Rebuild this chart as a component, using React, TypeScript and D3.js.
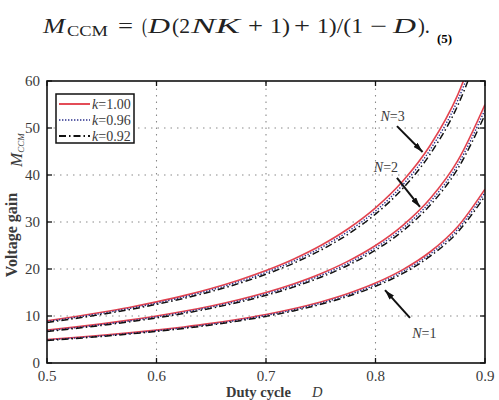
import React from 'react'
import * as d3 from 'd3'

// duty cycle samples
const duty = [0.5, 0.525, 0.55, 0.575, 0.6, 0.625, 0.65, 0.675, 0.7, 0.725, 0.75, 0.775, 0.8, 0.825, 0.85, 0.875, 0.9]

// voltage gain, N = 1, 2, 3 for each k
const n1k100 = [5, 5.42, 5.89, 6.41, 7, 7.67, 8.43, 9.31, 10.33, 11.55, 13, 14.78, 17, 19.86, 23.67, 29, 37]
const n1k096 = [4.9, 5.31, 5.77, 6.28, 6.86, 7.51, 8.26, 9.12, 10.13, 11.31, 12.74, 14.48, 16.66, 19.46, 23.19, 28.42, 36.26]
const n1k092 = [4.8, 5.2, 5.65, 6.16, 6.72, 7.36, 8.09, 8.94, 9.92, 11.08, 12.48, 14.19, 16.32, 19.06, 22.72, 27.84, 35.52]

const n2k100 = [7, 7.63, 8.33, 9.12, 10, 11, 12.14, 13.46, 15, 16.82, 19, 21.67, 25, 29.29, 35, 43, 55]
const n2k096 = [6.86, 7.48, 8.17, 8.94, 9.8, 10.78, 11.9, 13.19, 14.7, 16.48, 18.62, 21.23, 24.5, 28.7, 34.3, 42.14, 53.9]
const n2k092 = [6.72, 7.33, 8.0, 8.75, 9.6, 10.56, 11.66, 12.92, 14.4, 16.15, 18.24, 20.8, 24, 28.12, 33.6, 41.28, 52.8]

const n3k100 = [9, 9.84, 10.78, 11.82, 13, 14.33, 15.86, 17.62, 19.67, 22.09, 25, 28.56, 33, 38.71, 46.33, 57, 73]
const n3k096 = [8.82, 9.65, 10.56, 11.59, 12.74, 14.05, 15.54, 17.26, 19.27, 21.65, 24.5, 27.99, 32.34, 37.94, 45.41, 55.86, 71.54]
const n3k092 = [8.64, 9.45, 10.35, 11.35, 12.48, 13.76, 15.22, 16.91, 18.88, 21.21, 24, 27.41, 31.68, 37.17, 44.48, 54.72, 70.08]

const kLabels = ['1.00', '0.96', '0.92']
const xTicks = [0.5, 0.6, 0.7, 0.8, 0.9]
const yTicks = [0, 10, 20, 30, 40, 50, 60]

// equation pieces: text, left edge, right edge, italic
const eqPieces: [string, number, number, boolean][] = [
  ['M', 43, 65, true], ['=', 118, 133, false], ['(', 142, 147, false], ['D', 148, 170, true],
  ['(2', 172, 190, false], ['NK', 191, 240, true], ['+', 248, 263, false], ['1)', 270, 290, false],
  ['+', 294, 310, false], ['1)/(1', 317, 363, false], ['\u2212', 370, 387, false],
  ['D', 393, 416, true], [').', 418, 430, false],
]

// annotation arrows: label, tail (D, M), tip (D, M)
const notes = [
  { n: 3, label: [0.8045, 51.5], tail: [0.8196, 50.4], tip: [0.843, 44.9] },
  { n: 2, label: [0.7985, 40.6], tail: [0.8196, 39.4], tip: [0.8406, 33.2] },
  { n: 1, label: [0.8335, 5.4], tail: [0.8315, 9.6], tip: [0.8087, 15.5] },
]

const styles = [
  { stroke: '#e2434f', dash: null, width: 1.6 },
  { stroke: '#2b2f8c', dash: '1.4,1.6', width: 1.4 },
  { stroke: '#111', dash: '7,3,1.5,3', width: 1.5 },
]

const series = [
  [n1k100, n2k100, n3k100],
  [n1k096, n2k096, n3k096],
  [n1k092, n2k092, n3k092],
]

export default function App() {
  const x = d3.scaleLinear().domain([0.5, 0.9]).range([47, 485])
  const y = d3.scaleLinear().domain([0, 60]).range([363, 81])
  const line = d3.line<number>()
    .x((d, i) => x(duty[i]))
    .y(d => y(d))
    .curve(d3.curveMonotoneX)

  const serif = "'Liberation Serif', 'Times New Roman', serif"
  const grey = '#3a3a3a'

  return (
    <svg width={499} height={400} style={{ position: 'absolute', left: 0, top: 0, background: '#fff', fontFamily: serif }}>
      <defs>
        <clipPath id="plot">
          <rect x={x(0.5)} y={y(60)} width={x(0.9) - x(0.5)} height={y(0) - y(60)} />
        </clipPath>
        <marker id="head" viewBox="0 0 10 6" refX="10" refY="3" markerWidth="10" markerHeight="6" markerUnits="userSpaceOnUse" orient="auto">
          <path d="M0,0 L10,3 L0,6 Z" fill="#111" />
        </marker>
      </defs>

      {/* equation */}
      <g fill="#222" fontSize={21}>
        {eqPieces.map(([t, x0, x1, it], i) => (
          <text key={'eq' + i} x={x0} y={33} fontStyle={it ? 'italic' : 'normal'}
            textLength={x1 - x0} lengthAdjust="spacingAndGlyphs">{t}</text>
        ))}
        <text x={67} y={36} fontSize={14} textLength={41} lengthAdjust="spacingAndGlyphs">CCM</text>
        <text x={437} y={43} fontSize={13} fontWeight="bold" fill="#000">(5)</text>
      </g>

      {/* grid */}
      <g stroke="#8a8a8a" strokeWidth={1.1} strokeDasharray="1.5,5">
        {xTicks.slice(1, -1).map(t => (
          <line key={'gx' + t} x1={x(t)} x2={x(t)} y1={y(0)} y2={y(60)} />
        ))}
        {yTicks.slice(1, -1).map(t => (
          <line key={'gy' + t} x1={x(0.5)} x2={x(0.9)} y1={y(t)} y2={y(t)} />
        ))}
      </g>

      {/* curves */}
      <g clipPath="url(#plot)" fill="none">
        {series.map((group, k) => group.map((vals, n) => (
          <path key={k + '-' + n} d={line(vals) || ''} stroke={styles[k].stroke}
            strokeWidth={styles[k].width} strokeDasharray={styles[k].dash || undefined} />
        )))}
      </g>

      {/* frame and ticks */}
      <rect x={x(0.5)} y={y(60)} width={x(0.9) - x(0.5)} height={y(0) - y(60)} fill="none" stroke="#111" strokeWidth={1.6} />
      <g stroke="#111" strokeWidth={1.3}>
        {xTicks.map(t => (
          <g key={'tx' + t}>
            <line x1={x(t)} x2={x(t)} y1={y(0)} y2={y(0) - 5} />
            <line x1={x(t)} x2={x(t)} y1={y(60)} y2={y(60) + 5} />
          </g>
        ))}
        {yTicks.map(t => (
          <g key={'ty' + t}>
            <line x1={x(0.5)} x2={x(0.5) + 5} y1={y(t)} y2={y(t)} />
            <line x1={x(0.9)} x2={x(0.9) - 5} y1={y(t)} y2={y(t)} />
          </g>
        ))}
      </g>

      {/* tick labels */}
      <g fill={grey} fontSize={15}>
        {xTicks.map(t => (
          <text key={'lx' + t} x={x(t)} y={381} textAnchor="middle">{t.toFixed(1)}</text>
        ))}
        {yTicks.map(t => (
          <text key={'ly' + t} x={40} y={y(t) + 5} textAnchor="end">{t}</text>
        ))}
      </g>

      {/* axis titles */}
      <text x={226} y={396.5} fontSize={14.5} fontWeight="bold" fill={grey}>Duty cycle</text>
      <text x={312} y={396.5} fontSize={14.5} fontStyle="italic" fill={grey}>D</text>
      <text transform="translate(17,235) rotate(-90)" textAnchor="middle" fontSize={16} fontWeight="bold" fill={grey}>Voltage gain</text>
      <text transform="translate(22,167) rotate(-90)" fontSize={17} fontStyle="italic" fill={grey}>
        M<tspan fontSize={9} dy={2}>CCM</tspan>
      </text>

      {/* legend */}
      <rect x={56} y={94} width={78} height={49} fill="#fff" stroke="#111" strokeWidth={1.5} />
      {kLabels.map((k, i) => (
        <g key={'lg' + k}>
          <line x1={59} x2={90} y1={104 + i * 16} y2={104 + i * 16} stroke={styles[i].stroke}
            strokeWidth={styles[i].width + 0.3} strokeDasharray={styles[i].dash || undefined} />
          <text x={92} y={109 + i * 16} fontSize={14} fill={grey}>
            <tspan fontStyle="italic">k</tspan>={k}
          </text>
        </g>
      ))}

      {/* annotations */}
      {notes.map(a => (
        <g key={'n' + a.n}>
          <text x={x(a.label[0])} y={y(a.label[1])} fontSize={14} fill={grey}>
            <tspan fontStyle="italic">N</tspan>={a.n}
          </text>
          <line x1={x(a.tail[0])} y1={y(a.tail[1])} x2={x(a.tip[0])} y2={y(a.tip[1])}
            stroke="#111" strokeWidth={2} markerEnd="url(#head)" />
        </g>
      ))}
    </svg>
  )
}
